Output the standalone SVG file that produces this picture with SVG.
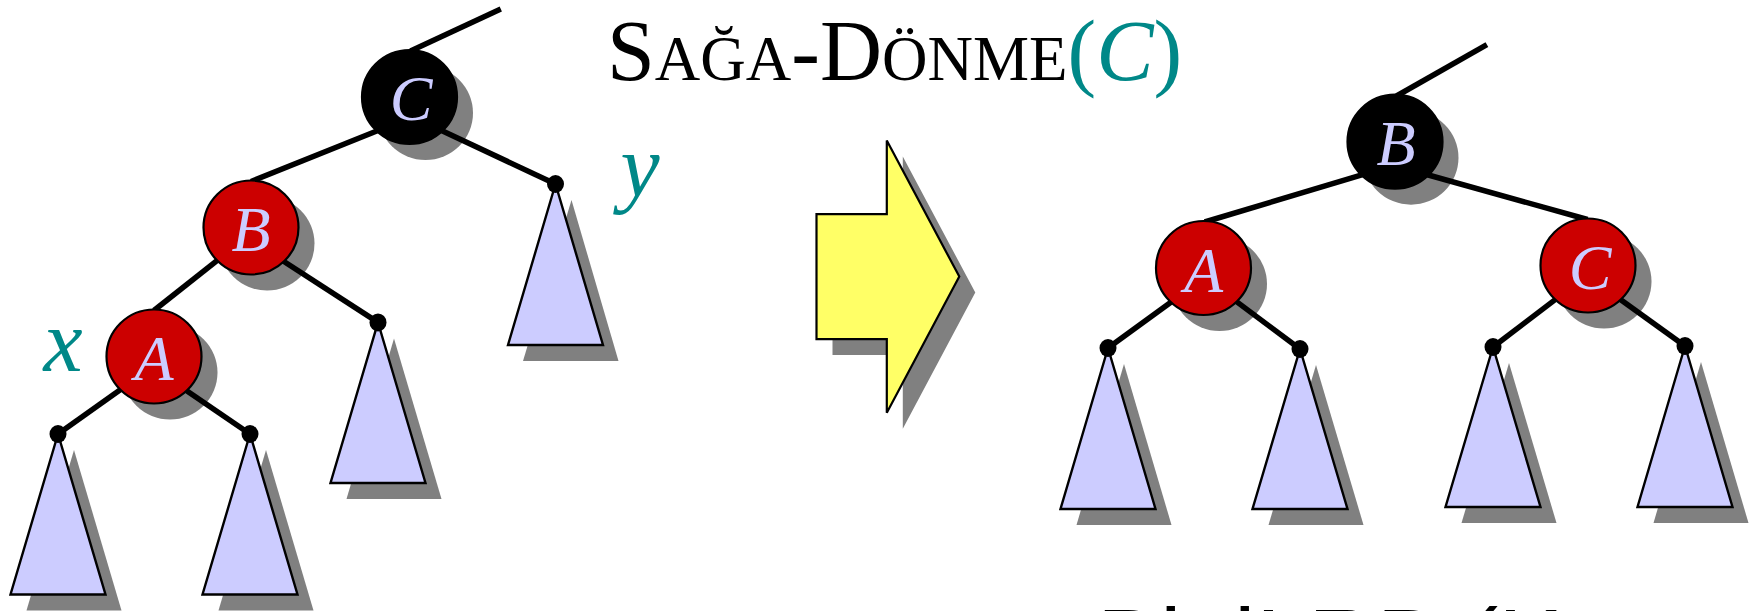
<svg xmlns="http://www.w3.org/2000/svg" width="1749" height="611" viewBox="0 0 1749 611">
<style>
.sh{fill:#808080}
.edge{stroke:#000;stroke-width:5.5;fill:none}
.red{fill:#CC0000;stroke:#000;stroke-width:2.2}
.blk{fill:#000;stroke:#000;stroke-width:2.2}
.lbl{font-family:"Liberation Serif","Times New Roman",serif;font-style:italic;font-size:64px;fill:#CCCCFF;text-anchor:middle}
.tri{fill:#CCCCFF;stroke:#000;stroke-width:2.4;stroke-linejoin:miter}
.dot{fill:#000}
.var{font-family:"Liberation Serif","Times New Roman",serif;font-style:italic;font-size:88px;fill:#008888;text-anchor:middle}
</style>
<rect width="1749" height="611" fill="#fff"/>
<g id="shadows">
<ellipse class="sh" cx="425.5" cy="113" rx="47.5" ry="47"/>
<ellipse class="sh" cx="267" cy="243.5" rx="47.5" ry="47"/>
<ellipse class="sh" cx="170" cy="372.5" rx="47.5" ry="47"/>
<polygon class="sh" points="571.5,200 523,361 618.5,361"/>
<polygon class="sh" points="394,338.4 346.5,499 441.5,499"/>
<polygon class="sh" points="74,450 26.5,610.5 121.5,610.5"/>
<polygon class="sh" points="266,450 218.5,610.5 313.5,610.5"/>
<polygon class="sh" points="832.5,230.2 902.8,230.2 902.8,156.5 975.3,292.6 902.8,428.7 902.8,355.1 832.5,355.1"/>
<ellipse class="sh" cx="1411" cy="157.7" rx="47.5" ry="47"/>
<ellipse class="sh" cx="1219.5" cy="284" rx="47.5" ry="47"/>
<ellipse class="sh" cx="1604" cy="281.5" rx="47.5" ry="47"/>
<polygon class="sh" points="1124,364 1076.5,525 1171.5,525"/>
<polygon class="sh" points="1316,365 1268.5,525 1363.5,525"/>
<polygon class="sh" points="1509,363 1461.5,523 1556.5,523"/>
<polygon class="sh" points="1701,362 1653.5,523 1748.5,523"/>
</g>
<g id="connectors">
<line class="edge" x1="410.5" y1="51" x2="500.8" y2="8.9"/>
<line class="edge" x1="382.4" y1="128.7" x2="251" y2="181.5"/>
<line class="edge" x1="436.7" y1="128.2" x2="555.5" y2="184"/>
<line class="edge" x1="222.7" y1="256.1" x2="153.9" y2="310.5"/>
<line class="edge" x1="276.6" y1="256.7" x2="378" y2="322.4"/>
<line class="edge" x1="125.9" y1="385.8" x2="58" y2="434"/>
<line class="edge" x1="179.7" y1="385.9" x2="250" y2="434"/>
<line class="edge" x1="1396.5" y1="96" x2="1486.9" y2="44.6"/>
<line class="edge" x1="1368.5" y1="172.9" x2="1204.7" y2="222"/>
<line class="edge" x1="1421.2" y1="173" x2="1587.5" y2="219.5"/>
<line class="edge" x1="1178.8" y1="296.5" x2="1108" y2="348"/>
<line class="edge" x1="1229.5" y1="296.4" x2="1300" y2="349"/>
<line class="edge" x1="1562.4" y1="294.1" x2="1493" y2="347"/>
<line class="edge" x1="1613.1" y1="294.2" x2="1685" y2="346"/>
</g>
<g id="title">
<text x="607" y="80" font-family="Liberation Serif,'Times New Roman',serif" font-size="86" fill="#000"><tspan>S</tspan><tspan font-size="63">AĞA</tspan><tspan>-D</tspan><tspan font-size="63">ÖNME</tspan><tspan fill="#008888">(</tspan><tspan fill="#008888" font-style="italic">C</tspan><tspan fill="#008888">)</tspan></text>
</g>
<g id="label-x"><text class="var" x="63" y="371">x</text></g>
<g id="label-y"><text class="var" x="640" y="196">y</text></g>
<g id="left-sub-y">
<polygon class="tri" points="555.5,184 508,345 603,345"/>
<ellipse class="dot" cx="555.5" cy="184" rx="8.5" ry="9"/>
</g>
<g id="left-sub-b">
<polygon class="tri" points="378,322.4 330.5,483 425.5,483"/>
<ellipse class="dot" cx="378" cy="322.4" rx="8.5" ry="9"/>
</g>
<g id="left-sub-a1">
<polygon class="tri" points="58,434 10.5,594.5 105.5,594.5"/>
<ellipse class="dot" cx="58" cy="434" rx="8.5" ry="9"/>
</g>
<g id="left-sub-a2">
<polygon class="tri" points="250,434 202.5,594.5 297.5,594.5"/>
<ellipse class="dot" cx="250" cy="434" rx="8.5" ry="9"/>
</g>
<g id="left-node-c">
<ellipse class="blk" cx="409.5" cy="97" rx="47.5" ry="47"/>
<text class="lbl" x="411" y="120">C</text>
</g>
<g id="left-node-b">
<ellipse class="red" cx="251" cy="227.5" rx="47.5" ry="47"/>
<text class="lbl" x="251" y="251">B</text>
</g>
<g id="left-node-a">
<ellipse class="red" cx="154" cy="356.5" rx="47.5" ry="47"/>
<text class="lbl" x="154" y="380">A</text>
</g>
<g id="arrow">
<polygon points="816.5,214.2 886.8,214.2 886.8,140.5 959.3,276.6 886.8,412.7 886.8,339.1 816.5,339.1" fill="#FFFF66" stroke="#000" stroke-width="2.2"/>
</g>
<g id="right-sub-1">
<polygon class="tri" points="1108,348 1060.5,509 1155.5,509"/>
<ellipse class="dot" cx="1108" cy="348" rx="8.5" ry="9"/>
</g>
<g id="right-sub-2">
<polygon class="tri" points="1300,349 1252.5,509 1347.5,509"/>
<ellipse class="dot" cx="1300" cy="349" rx="8.5" ry="9"/>
</g>
<g id="right-sub-3">
<polygon class="tri" points="1493,347 1445.5,507 1540.5,507"/>
<ellipse class="dot" cx="1493" cy="347" rx="8.5" ry="9"/>
</g>
<g id="right-sub-4">
<polygon class="tri" points="1685,346 1637.5,507 1732.5,507"/>
<ellipse class="dot" cx="1685" cy="346" rx="8.5" ry="9"/>
</g>
<g id="right-node-b">
<ellipse class="blk" cx="1395" cy="141.7" rx="47.5" ry="47"/>
<text class="lbl" x="1396" y="165">B</text>
</g>
<g id="right-node-a">
<ellipse class="red" cx="1203.5" cy="268" rx="47.5" ry="47"/>
<text class="lbl" x="1203.5" y="291.5">A</text>
</g>
<g id="right-node-c">
<ellipse class="red" cx="1588" cy="265.5" rx="47.5" ry="47"/>
<text class="lbl" x="1590" y="289">C</text>
</g>
<g id="footer">
<text x="1097" y="675" font-family="Liberation Sans,Arial,sans-serif" font-size="95" fill="#000">Bitti! RB (K</text>
</g>
</svg>
